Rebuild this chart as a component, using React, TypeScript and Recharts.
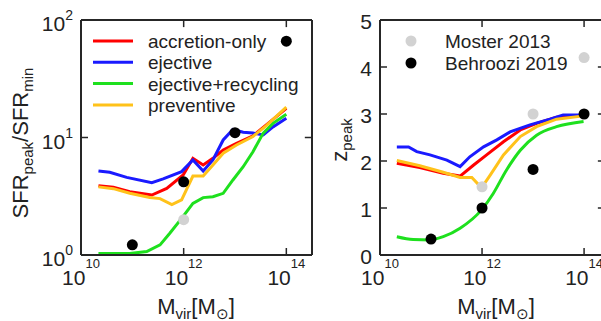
import React from 'react';
import { ComposedChart, Line, XAxis, YAxis, ReferenceLine } from 'recharts';

// x values are log10(Mvir / Msun)
// left panel: SFR_peak / SFR_min
const sfrAccretion = [
  { m: 10.34, v: 3.89 }, { m: 10.63, v: 3.77 }, { m: 10.95, v: 3.46 }, { m: 11.38, v: 3.24 },
  { m: 11.67, v: 3.69 }, { m: 11.99, v: 4.8 }, { m: 12.18, v: 6.65 }, { m: 12.38, v: 5.83 },
  { m: 12.57, v: 6.65 }, { m: 12.77, v: 7.83 }, { m: 13.03, v: 8.93 }, { m: 13.35, v: 10.35 },
  { m: 13.61, v: 12.8 }, { m: 14.0, v: 17.7 },
];
const sfrEjective = [
  { m: 10.34, v: 5.19 }, { m: 10.56, v: 5.06 }, { m: 10.89, v: 4.58 }, { m: 11.38, v: 4.13 },
  { m: 11.6, v: 4.44 }, { m: 11.96, v: 5.12 }, { m: 12.18, v: 6.44 }, { m: 12.38, v: 5.19 },
  { m: 12.57, v: 6.44 }, { m: 12.77, v: 9.53 }, { m: 12.96, v: 11.7 }, { m: 13.16, v: 11.1 },
  { m: 13.35, v: 10.9 }, { m: 13.55, v: 10.5 }, { m: 13.74, v: 12.3 }, { m: 14.0, v: 14.6 },
];
const sfrRecycling = [
  { m: 10.34, v: 1.03 }, { m: 10.95, v: 1.03 }, { m: 11.28, v: 1.07 }, { m: 11.54, v: 1.22 },
  { m: 11.73, v: 1.53 }, { m: 11.96, v: 2.05 }, { m: 12.18, v: 2.75 }, { m: 12.38, v: 3.08 },
  { m: 12.57, v: 3.13 }, { m: 12.77, v: 3.35 }, { m: 12.96, v: 4.35 }, { m: 13.16, v: 5.64 },
  { m: 13.35, v: 7.57 }, { m: 13.55, v: 10.9 }, { m: 13.74, v: 13.2 }, { m: 14.0, v: 15.8 },
];
const sfrPreventive = [
  { m: 10.34, v: 3.8 }, { m: 10.63, v: 3.67 }, { m: 10.95, v: 3.35 }, { m: 11.34, v: 3.09 },
  { m: 11.54, v: 3.02 }, { m: 11.77, v: 2.69 }, { m: 11.96, v: 2.94 }, { m: 12.18, v: 4.7 },
  { m: 12.38, v: 4.7 }, { m: 12.57, v: 5.83 }, { m: 12.77, v: 7.35 }, { m: 13.03, v: 8.63 },
  { m: 13.35, v: 10.2 }, { m: 13.61, v: 12.6 }, { m: 14.0, v: 18.1 },
];
const sfrMoster = [{ m: 12.0, v: 2.0 }];
const sfrBehroozi = [{ m: 11.0, v: 1.22 }, { m: 12.0, v: 4.2 }, { m: 13.0, v: 11 }, { m: 14.0, v: 66 }];

// right panel: z_peak
const zAccretion = [
  { m: 10.33, v: 1.95 }, { m: 10.78, v: 1.86 }, { m: 11.24, v: 1.74 }, { m: 11.57, v: 1.68 },
  { m: 11.83, v: 1.91 }, { m: 12.09, v: 2.13 }, { m: 12.42, v: 2.41 }, { m: 12.75, v: 2.66 },
  { m: 13.07, v: 2.8 }, { m: 13.46, v: 2.93 }, { m: 13.99, v: 2.98 },
];
const zEjective = [
  { m: 10.33, v: 2.3 }, { m: 10.56, v: 2.3 }, { m: 10.72, v: 2.2 }, { m: 10.98, v: 2.13 },
  { m: 11.31, v: 2.02 }, { m: 11.57, v: 1.88 }, { m: 11.76, v: 2.09 }, { m: 12.03, v: 2.3 },
  { m: 12.29, v: 2.45 }, { m: 12.55, v: 2.62 }, { m: 12.94, v: 2.77 }, { m: 13.33, v: 2.89 },
  { m: 13.59, v: 2.98 }, { m: 13.99, v: 2.98 },
];
const zRecycling = [
  { m: 10.33, v: 0.39 }, { m: 10.65, v: 0.33 }, { m: 10.98, v: 0.32 }, { m: 11.24, v: 0.39 },
  { m: 11.57, v: 0.57 }, { m: 11.99, v: 0.96 }, { m: 12.22, v: 1.31 }, { m: 12.48, v: 1.81 },
  { m: 12.75, v: 2.23 }, { m: 13.07, v: 2.55 }, { m: 13.46, v: 2.73 }, { m: 13.99, v: 2.84 },
];
const zPreventive = [
  { m: 10.33, v: 2.01 }, { m: 10.78, v: 1.9 }, { m: 11.24, v: 1.76 }, { m: 11.57, v: 1.65 },
  { m: 11.8, v: 1.65 }, { m: 11.99, v: 1.43 }, { m: 12.16, v: 1.7 }, { m: 12.42, v: 2.13 },
  { m: 12.75, v: 2.52 }, { m: 13.07, v: 2.73 }, { m: 13.46, v: 2.89 }, { m: 13.99, v: 2.96 },
];
const zMoster = [{ m: 12.0, v: 1.45 }, { m: 13.0, v: 3.0 }, { m: 14.0, v: 4.2 }];
const zBehroozi = [{ m: 11.0, v: 0.34 }, { m: 12.0, v: 1.0 }, { m: 13.0, v: 1.82 }, { m: 14.0, v: 3.0 }];

const modelNames = ['accretion-only', 'ejective', 'ejective+recycling', 'preventive'];
const obsNames = ['Moster 2013', 'Behroozi 2019'];
const massTicks = [10, 12, 14];
const ratioTicks = [1, 10, 100];
const zTicks = [0, 1, 2, 3, 4, 5];

const RED = '#ff0000';
const BLUE = '#1a1aff';
const GREEN = '#1ee01e';
const YELLOW = '#ffc21a';
const GREY = '#d2d2d2';
const modelColors = [RED, BLUE, GREEN, YELLOW];

const FONT = '"Liberation Sans", Arial, sans-serif';
const INK = '#222';
const EDGE = '#262626';
const frame = { stroke: EDGE, strokeWidth: 2 };
const tickMark = { stroke: EDGE, strokeWidth: 1.5 };

// label-only tick renderers; the inward tick marks come from tickLine with tickSize -7
const MassTick = ({ x, y, payload }: any) => (
  <text x={Number(x)} y={Number(y) + 30} textAnchor="middle" fontSize={21} fontFamily={FONT} fill={INK}>
    10<tspan dy={-17} fontSize={13}>{payload.value}</tspan>
  </text>
);
const RatioTick = ({ x, y, payload }: any) => (
  <text x={Number(x) - 8} y={Number(y) + 11} textAnchor="end" fontSize={21} fontFamily={FONT} fill={INK}>
    10<tspan dy={-11} fontSize={14}>{Math.round(Math.log10(payload.value))}</tspan>
  </text>
);
const ZTick = ({ x, y, payload }: any) => (
  <text x={Number(x) - 8} y={Number(y) + 8.5} textAnchor="end" fontSize={21} fontFamily={FONT} fill={INK}>
    {payload.value}
  </text>
);

const dot = (fill: string) => (p: any) => (
  <circle key={`d-${p.index}`} cx={p.cx} cy={p.cy} r={5.5} fill={fill} />
);

// inward tick marks on the top and right edges of each box
const topTicks = (yTop: number, yIn: number) =>
  massTicks.slice(1).map((t) => (
    <ReferenceLine key={`tt-${t}`} xAxisId="b" yAxisId="l" segment={[{ x: t, y: yTop }, { x: t, y: yIn }]}
      stroke={EDGE} strokeWidth={1.5} ifOverflow="visible" />
  ));
const rightTicks = (ticks: number[], xRight: number, xIn: number) =>
  ticks.slice(1, -1).map((t) => (
    <ReferenceLine key={`rt-${t}`} xAxisId="b" yAxisId="l" segment={[{ x: xRight, y: t }, { x: xIn, y: t }]}
      stroke={EDGE} strokeWidth={1.5} ifOverflow="visible" />
  ));

const Overlay = () => (
  <svg width={601} height={321} style={{ position: 'absolute', left: 0, top: 0, pointerEvents: 'none' }}>
    <g fontFamily={FONT} fill={INK}>
      <text transform="translate(28,143) rotate(-90)" textAnchor="middle" fontSize={22}>
        SFR<tspan dy={5} fontSize={15}>peak</tspan>
        <tspan dy={-5}>/SFR</tspan>
        <tspan dy={5} fontSize={15}>min</tspan>
      </text>
      <text transform="translate(347,140) rotate(-90)" textAnchor="middle" fontSize={22}>
        z<tspan dy={5} fontSize={15}>peak</tspan>
      </text>
      {[196, 496].map((cx) => (
        <text key={cx} x={cx} y={314} textAnchor="middle" fontSize={22}>
          M<tspan dy={5} fontSize={15}>vir</tspan>
          <tspan dy={-5}>[M</tspan>
          <tspan dy={5} fontSize={15}>⊙</tspan>
          <tspan dy={-5}>]</tspan>
        </text>
      ))}
      {modelNames.map((name, i) => {
        const y = 41 + i * 21.3;
        return (
          <g key={name}>
            <line x1={93} x2={133} y1={y} y2={y} stroke={modelColors[i]} strokeWidth={3} />
            <text x={148} y={y + 7} fontSize={19}>{name}</text>
          </g>
        );
      })}
      {obsNames.map((name, i) => {
        const y = 41 + i * 22;
        return (
          <g key={name}>
            <circle cx={411} cy={y} r={5.5} fill={i === 0 ? GREY : '#000'} />
            <text x={445} y={y + 7} fontSize={19}>{name}</text>
          </g>
        );
      })}
    </g>
  </svg>
);

const App = () => {
  return (
    <div style={{ position: 'absolute', left: 0, top: 0, width: 601, height: 321, overflow: 'hidden', background: '#fff' }}>
      <div style={{ position: 'absolute', left: 0, top: 0 }}>
        <ComposedChart width={330} height={321} margin={{ top: 20, right: 18, bottom: 0, left: 0 }}>
          <XAxis xAxisId="b" dataKey="m" type="number" domain={[10, 14.5]} ticks={massTicks} height={66}
            axisLine={frame} tickLine={tickMark} tickSize={-7} tickMargin={7} tick={<MassTick />} />
          <YAxis yAxisId="l" dataKey="v" type="number" scale="log" domain={[1, 100]} ticks={ratioTicks} width={81}
            axisLine={frame} tickLine={tickMark} tickSize={-7} tickMargin={7} tick={<RatioTick />} />
          <ReferenceLine xAxisId="b" yAxisId="l" y={100} stroke={EDGE} strokeWidth={2} ifOverflow="visible" />
          <ReferenceLine xAxisId="b" yAxisId="l" x={14.5} stroke={EDGE} strokeWidth={2} ifOverflow="visible" />
          {topTicks(100, 87)}
          {rightTicks(ratioTicks, 14.5, 14.36)}
          <Line xAxisId="b" yAxisId="l" data={sfrMoster} dataKey="v" stroke="none" dot={dot(GREY)} activeDot={false} isAnimationActive={false} />
          <Line xAxisId="b" yAxisId="l" data={sfrBehroozi} dataKey="v" stroke="none" dot={dot('#000')} activeDot={false} isAnimationActive={false} />
          <Line xAxisId="b" yAxisId="l" data={sfrAccretion} dataKey="v" stroke={RED} strokeWidth={3} dot={false} isAnimationActive={false} />
          <Line xAxisId="b" yAxisId="l" data={sfrEjective} dataKey="v" stroke={BLUE} strokeWidth={3} dot={false} isAnimationActive={false} />
          <Line xAxisId="b" yAxisId="l" data={sfrRecycling} dataKey="v" stroke={GREEN} strokeWidth={3} dot={false} isAnimationActive={false} />
          <Line xAxisId="b" yAxisId="l" data={sfrPreventive} dataKey="v" stroke={YELLOW} strokeWidth={3} dot={false} isAnimationActive={false} />
        </ComposedChart>
      </div>
      <div style={{ position: 'absolute', left: 300, top: 0 }}>
        <ComposedChart width={320} height={321} margin={{ top: 20, right: 15, bottom: 0, left: 0 }}>
          <XAxis xAxisId="b" dataKey="m" type="number" domain={[10, 14.41]} ticks={massTicks} height={66}
            axisLine={frame} tickLine={tickMark} tickSize={-7} tickMargin={7} tick={<MassTick />} />
          <YAxis yAxisId="l" dataKey="v" type="number" domain={[0, 5]} ticks={zTicks} width={80}
            axisLine={frame} tickLine={tickMark} tickSize={-7} tickMargin={7} tick={<ZTick />} />
          <ReferenceLine xAxisId="b" yAxisId="l" y={5} stroke={EDGE} strokeWidth={2} ifOverflow="visible" />
          <ReferenceLine xAxisId="b" yAxisId="l" x={14.41} stroke={EDGE} strokeWidth={2} ifOverflow="visible" />
          {topTicks(5, 4.85)}
          {rightTicks(zTicks, 14.41, 14.27)}
          <Line xAxisId="b" yAxisId="l" data={zMoster} dataKey="v" stroke="none" dot={dot(GREY)} activeDot={false} isAnimationActive={false} />
          <Line xAxisId="b" yAxisId="l" data={zBehroozi} dataKey="v" stroke="none" dot={dot('#000')} activeDot={false} isAnimationActive={false} />
          <Line xAxisId="b" yAxisId="l" data={zAccretion} dataKey="v" stroke={RED} strokeWidth={3} dot={false} isAnimationActive={false} />
          <Line xAxisId="b" yAxisId="l" data={zEjective} dataKey="v" stroke={BLUE} strokeWidth={3} dot={false} isAnimationActive={false} />
          <Line xAxisId="b" yAxisId="l" type="monotone" data={zRecycling} dataKey="v" stroke={GREEN} strokeWidth={3} dot={false} isAnimationActive={false} />
          <Line xAxisId="b" yAxisId="l" data={zPreventive} dataKey="v" stroke={YELLOW} strokeWidth={3} dot={false} isAnimationActive={false} />
        </ComposedChart>
      </div>
      <Overlay />
    </div>
  );
};

export default App;
